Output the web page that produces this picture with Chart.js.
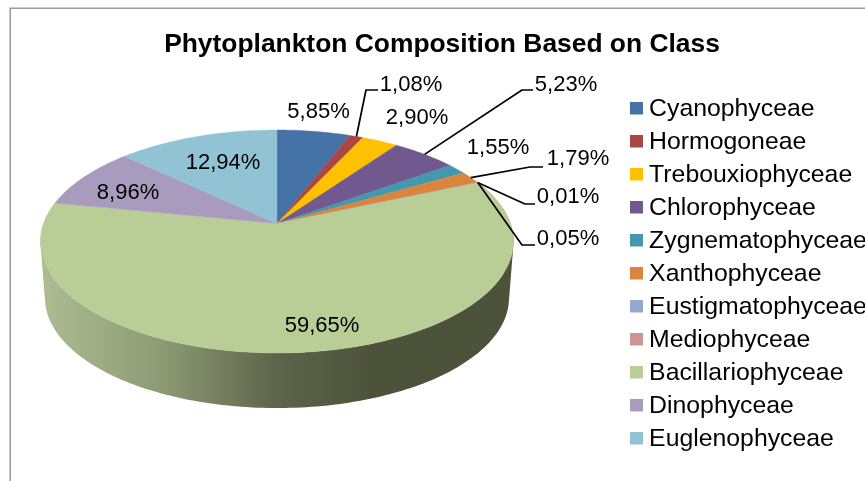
<!DOCTYPE html>
<html>
<head>
<meta charset="utf-8">
<style>html,body{margin:0;padding:0;background:#fff;overflow:hidden}canvas{display:block}</style>
<script src="https://cdn.jsdelivr.net/npm/chart.js@4"></script>
</head>
<body>
<canvas id="c" width="865" height="481"></canvas>
<script>
const titleText = "Phytoplankton Composition Based on Class";
const categories = ["Cyanophyceae","Hormogoneae","Trebouxiophyceae","Chlorophyceae","Zygnematophyceae","Xanthophyceae","Eustigmatophyceae","Mediophyceae","Bacillariophyceae","Dinophyceae","Euglenophyceae"];
const values = [5.85,1.08,2.90,5.23,1.55,1.79,0.01,0.05,59.65,8.96,12.94];
const valueLabels = ["5,85%","1,08%","2,90%","5,23%","1,55%","1,79%","0,01%","0,05%","59,65%","8,96%","12,94%"];
const colors = ["#4572A7","#AA4643","#FFC000","#71588F","#4198AF","#DB843D","#93A9CF","#D19392","#B9CD96","#A99BBD","#91C3D5"];

// label placement (text centre, optional leader elbow)
const labelSpots = [
  {x:318.5,y:111},
  {x:411,y:84,elbow:[366,90],end:[378,90]},
  {x:417,y:117},
  {x:566,y:84,elbow:[522,90],end:[533,90]},
  {x:498,y:147},
  {x:578,y:158,elbow:[530,167],end:[543,167]},
  {x:568,y:196,elbow:[525,204],end:[535,204]},
  {x:568,y:238,elbow:[522,245],end:[535,245]},
  {x:322,y:325},
  {x:128,y:192},
  {x:223,y:162}
];

// perspective view of the pie disc
const view = {cx:277, cy:223.5, A:233.4, a:108.6, c:0.1614};
const wall = {sx:0.981, ellipseY:241.5, dropY:298, sy:0.987};
function project(theta){
  const u = Math.cos(theta), v = -Math.sin(theta), w = 1 + view.c*v;
  return [view.cx + view.A*u/w, view.cy - view.a*v/w];
}
function lower(p){
  return [view.cx + (p[0]-view.cx)*wall.sx, wall.dropY + (p[1]-wall.ellipseY)*wall.sy];
}
function rimPoints(a0,a1){
  const n = Math.max(2, Math.ceil((a1-a0)/0.02)), pts = [];
  for(let i=0;i<=n;i++) pts.push(project(a0+(a1-a0)*i/n));
  return pts;
}
function swatch(col){
  const s = document.createElement('canvas'); s.width = 13; s.height = 16;
  const g = s.getContext('2d'); g.fillStyle = col; g.fillRect(0,0,13,13);
  return s;
}

const piePlugin = {
  id:'perspectivePie',
  afterLayout(chart){
    const lg = chart.legend, pad = lg.options.labels.padding, fs = lg.options.labels.font.size;
    lg.left = 636.3 - pad;
    lg.right = 865;
    lg.top = 109.5 - fs/2 - pad;
    lg.bottom = 481;
  },
  beforeDraw(chart){
    const g = chart.ctx;
    g.save();
    g.strokeStyle = '#9a9a9a'; g.lineWidth = 1.5;
    g.strokeRect(10.25,8.25,1000,1000);
    g.restore();
  },
  beforeDatasetsDraw(chart){
    const g = chart.ctx, arcs = chart.getDatasetMeta(0).data;
    const big = arcs[values.indexOf(Math.max(...values))];
    const top = rimPoints(big.startAngle, big.endAngle);
    // side wall of the slice facing the viewer: swept from the rim down
    const grad = g.createLinearGradient(41,0,513,0);
    grad.addColorStop(0,'#AEBC92');
    grad.addColorStop(0.25,'#8E9C75');
    grad.addColorStop(0.5,'#5E644A');
    grad.addColorStop(0.7,'#4D523A');
    grad.addColorStop(1,'#4D523A');
    g.save();
    g.fillStyle = grad;
    g.beginPath();
    for(let i=0;i<top.length-1;i++){
      const a=top[i], b=top[i+1], c=lower(b), d=lower(a);
      const area=(b[0]-a[0])*(c[1]-a[1])-(b[1]-a[1])*(c[0]-a[0]);
      const seq = area>=0 ? [a,b,c,d] : [d,c,b,a];
      g.moveTo(seq[0][0],seq[0][1]);
      seq.slice(1).forEach(p=>g.lineTo(p[0],p[1]));
      g.closePath();
    }
    g.fill();
    // top surface
    arcs.forEach((arc,i)=>{
      g.fillStyle = colors[i]; g.strokeStyle = colors[i]; g.lineWidth = 0.4;
      g.beginPath(); g.moveTo(view.cx,view.cy);
      rimPoints(arc.startAngle,arc.endAngle).forEach(p=>g.lineTo(p[0],p[1]));
      g.closePath(); g.fill(); g.stroke();
    });
    g.restore();
    return false;
  },
  afterDraw(chart){
    const g = chart.ctx, arcs = chart.getDatasetMeta(0).data;
    g.save();
    g.strokeStyle = '#000'; g.lineWidth = 1.7; g.lineJoin = 'round';
    arcs.forEach((arc,i)=>{
      const s = labelSpots[i];
      if(!s.elbow) return;
      const p = project((arc.startAngle+arc.endAngle)/2);
      g.beginPath(); g.moveTo(p[0],p[1]); g.lineTo(s.elbow[0],s.elbow[1]); g.lineTo(s.end[0],s.end[1]); g.stroke();
    });
    g.fillStyle = '#000';
    g.font = '22px "Liberation Sans", Arial, sans-serif';
    g.textAlign = 'center'; g.textBaseline = 'middle';
    valueLabels.forEach((t,i)=> g.fillText(t,labelSpots[i].x,labelSpots[i].y+1));
    g.restore();
  }
};

new Chart(document.getElementById('c'),{
  type:'pie',
  data:{labels:categories,datasets:[{data:values,backgroundColor:colors,borderWidth:0}]},
  plugins:[piePlugin],
  options:{
    responsive:false,animation:false,
    layout:{padding:{left:19}},
    plugins:{
      tooltip:{enabled:false},
      title:{display:true,text:titleText,color:'#000',
        font:{family:'"Liberation Sans", Arial, sans-serif',size:26.4,weight:'bold'},
        padding:{top:29,bottom:8}},
      legend:{display:true,position:'right',align:'start',maxWidth:400,
        labels:{color:'#000',
          font:{family:'"Liberation Sans", Arial, sans-serif',size:24.8},
          padding:8.2,usePointStyle:true,pointStyleWidth:0.4,
          generateLabels(chart){
            return categories.map((name,i)=>({text:name,fillStyle:colors[i],strokeStyle:colors[i],lineWidth:0,
              pointStyle:swatch(colors[i]),index:i,hidden:false}));
          }}}
    }
  }
});
</script>
</body>
</html>
